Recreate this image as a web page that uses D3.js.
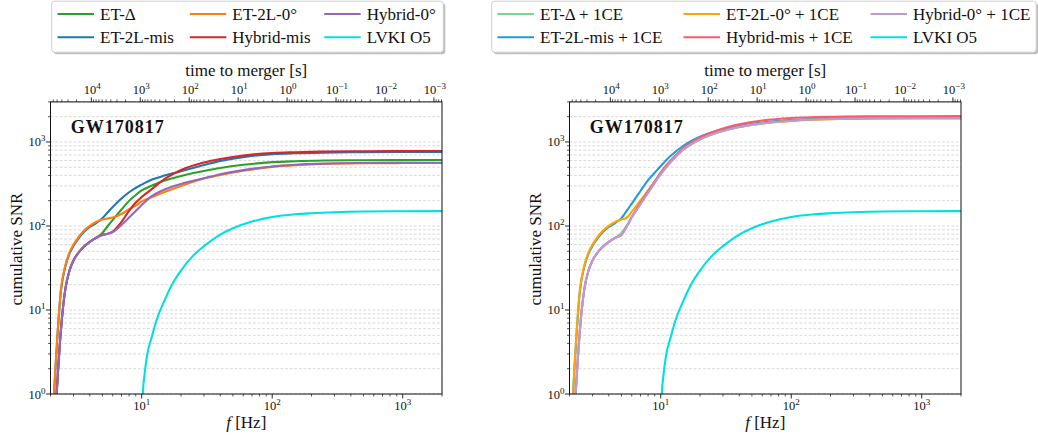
<!DOCTYPE html>
<html><head><meta charset="utf-8">
<script src="https://cdn.jsdelivr.net/npm/d3@7"></script>
<style>body{margin:0;background:#fff}</style>
</head><body>
<svg id="c" width="1038" height="436"></svg>
<script>
// ---------------- data ----------------
const freqHz = [2.1, 2.15, 2.25, 2.4, 2.6, 2.8, 3.0, 3.3, 3.6, 4.0, 4.5, 5.0, 5.5, 6.0, 7.0, 8.0, 9.0, 10, 12, 15, 20, 30, 40, 60, 100, 150, 250, 500, 1000, 2000];

// left panel (ET configurations alone)
const etDelta   = [0.1, 0.35, 1.27, 5.6, 17.8, 29.7, 38.9, 48.8, 56.5, 64.7, 72.6, 82.6, 100, 118, 157, 199, 234, 265, 303, 348, 394, 451, 490, 535, 575, 590, 601, 607, 609, 610];
const et2LMis   = [0.6, 1.3, 4.3, 16.5, 33, 47, 58, 72, 85, 97.5, 109, 124, 146, 168, 212, 252, 285, 311, 357, 398, 448, 531, 596, 661, 716, 734, 747, 756, 760, 762];
const et2L0     = [0.6, 1.35, 4.5, 17, 34, 48.5, 60, 74.5, 88, 100.5, 112.5, 119.5, 123, 126.5, 139, 159, 175, 196, 221, 254, 299, 367, 405, 455, 505, 530, 548, 558, 561, 562];
const hybridMis = [0.1, 0.35, 1.27, 5.6, 17.8, 29.7, 38.9, 48.8, 56.5, 64.7, 72.6, 78.2, 80.7, 86, 112, 151, 190, 221, 276, 363, 464, 570, 628, 691, 740, 756, 769, 777, 779, 780];
const hybrid0   = [0.1, 0.35, 1.27, 5.6, 17.8, 29.7, 38.9, 48.8, 56.5, 64.7, 72.6, 78.2, 80.7, 84.8, 103, 126, 151, 178, 228, 272, 316, 371, 414, 462, 511, 535, 553, 562, 565, 566];

// right panel (ET configurations + 1 CE)
const etDeltaCE   = [0.1, 0.35, 1.27, 5.6, 17.8, 29.7, 38.9, 48.8, 56.5, 64.7, 72.6, 82.6, 101, 127, 182, 248, 326, 414, 582, 815, 1072, 1350, 1505, 1670, 1800, 1860, 1900, 1922, 1932, 1935];
const et2LMisCE   = [0.6, 1.3, 4.3, 16.5, 33, 47, 58, 72, 85, 97.5, 109, 124, 152, 185, 261, 352, 431, 518, 689, 908, 1156, 1416, 1563, 1707, 1820, 1875, 1915, 1938, 1947, 1950];
const et2L0CE     = [0.6, 1.35, 4.5, 17, 34, 48.5, 60, 74.5, 88, 100.5, 112.5, 119.5, 126, 148, 202, 266, 339, 416, 590, 822, 1078, 1352, 1504, 1665, 1785, 1843, 1880, 1900, 1907, 1910];
const hybridMisCE = [0.1, 0.35, 1.27, 5.6, 17.8, 29.7, 38.9, 48.8, 56.5, 64.7, 72.6, 78.2, 99, 128, 188, 258, 340, 435, 610, 850, 1130, 1450, 1620, 1800, 1930, 1975, 2005, 2022, 2028, 2030];
const hybrid0CE   = [0.1, 0.35, 1.27, 5.6, 17.8, 29.7, 38.9, 48.8, 56.5, 64.7, 72.6, 78.2, 98.4, 126, 182, 248, 326, 416, 586, 819, 1077, 1352, 1504, 1665, 1790, 1850, 1890, 1910, 1918, 1920];

// LVK-India O5 network
const lvkFreqHz = [10.1, 10.2, 10.5, 11, 12, 13, 15, 17, 20, 25, 30, 40, 50, 70, 100, 150, 200, 300, 500, 1000, 2000];
const lvkSNR    = [0.4, 1.0, 1.68, 2.9, 4.9, 7.6, 13.1, 19.8, 29.5, 45, 57.5, 79, 94, 113, 128, 138, 142, 146, 149, 150, 150.4];

const leftLabels  = ["ET-Δ", "ET-2L-mis", "ET-2L-0°", "Hybrid-mis", "Hybrid-0°", "LVKI O5"];
const rightLabels = ["ET-Δ + 1CE", "ET-2L-mis + 1CE", "ET-2L-0° + 1CE", "Hybrid-mis + 1CE", "Hybrid-0° + 1CE", "LVKI O5"];
const leftColors  = ["#2ca02c", "#1f77b4", "#ff7f0e", "#d62728", "#9467bd", "#00e0e0"];
const rightColors = ["#7ad68c", "#1a9fdc", "#ffa500", "#fb5a6e", "#bb9bd6", "#00e0e0"];

const xTicks = [10, 100, 1000];
const yTicks = [1, 10, 100, 1000];
const tauTicks = [1e4, 1e3, 1e2, 1e1, 1e0, 1e-1, 1e-2, 1e-3];
const tauTickExp = ["4", "3", "2", "1", "0", "−1", "−2", "−3"];
const xTickExp = ["1", "2", "3"];
const yTickExp = ["0", "1", "2", "3"];
const eventName = "GW170817";
const fRange = [2, 2000];
const snrRange = [1, 3000];
const fTau1s = 130; // frequency at which time to merger = 1 s
const tau = f => Math.pow(f / fTau1s, -8 / 3);

// ---------------- drawing ----------------
const FONT = "'Liberation Serif', serif";
const svg = d3.select("#c");

function txt(sel) { return sel.append("text").style("font-family", FONT).attr("fill", "#111"); }

function minorTicks(lo, hi) {
  const out = [];
  for (let e = Math.floor(Math.log10(lo)) - 1; e <= Math.ceil(Math.log10(hi)); e++) {
    for (let k = 1; k <= 9; k++) {
      const v = k * Math.pow(10, e);
      if (v >= lo * 0.9999 && v <= hi * 1.0001) out.push({ v, major: k === 1 });
    }
  }
  return out;
}

function drawPanel(idx, dx, seriesList, colors, labels, legend) {
  const x0 = 50.5 + dx, x1 = 442 + dx, yTop = 101.9, yBot = 394;
  const x = d3.scaleLog().domain(fRange).range([x0, x1]);
  const y = d3.scaleLog().domain(snrRange).range([yBot, yTop]);
  const xt = d3.scaleLog().domain([tau(fRange[0]), tau(fRange[1])]).range([x0, x1]);
  const g = svg.append("g");

  g.append("clipPath").attr("id", "clip" + idx).append("rect")
    .attr("x", x0).attr("y", yTop).attr("width", x1 - x0).attr("height", yBot - yTop);

  g.append("g").selectAll("line").data(minorTicks(snrRange[0], snrRange[1])).join("line")
    .attr("x1", x0).attr("x2", x1).attr("y1", d => y(d.v)).attr("y2", d => y(d.v))
    .attr("stroke", "#cfcfcf").attr("stroke-width", 0.8).attr("stroke-dasharray", "2.8,1.8");

  const line = d3.line().x(d => x(d.f)).y(d => y(d.v)).curve(d3.curveMonotoneX);
  const cg = g.append("g").attr("clip-path", `url(#clip${idx})`);
  seriesList.forEach((s, i) => {
    const pts = s.f.map((f, j) => ({ f, v: s.v[j] }));
    cg.append("path").attr("d", line(pts)).attr("fill", "none")
      .attr("stroke", colors[i]).attr("stroke-width", 2.1).attr("stroke-linejoin", "round");
  });

  g.append("rect").attr("x", x0).attr("y", yTop).attr("width", x1 - x0).attr("height", yBot - yTop)
    .attr("fill", "none").attr("stroke", "#111").attr("stroke-width", 1);

  g.append("g").selectAll("line").data(minorTicks(fRange[0], fRange[1])).join("line")
    .attr("x1", d => x(d.v)).attr("x2", d => x(d.v)).attr("y1", yBot).attr("y2", d => yBot + (d.major ? 4.5 : 2.5))
    .attr("stroke", "#111").attr("stroke-width", d => d.major ? 0.9 : 0.7);
  xTicks.forEach((t, i) => {
    const tx = txt(g).attr("x", x(t)).attr("y", 410).attr("text-anchor", "middle").attr("font-size", 12.5);
    tx.append("tspan").text("10");
    tx.append("tspan").attr("dy", -5).attr("font-size", 9).text(xTickExp[i]);
  });

  g.append("g").selectAll("line").data(minorTicks(snrRange[0], snrRange[1])).join("line")
    .attr("y1", d => y(d.v)).attr("y2", d => y(d.v)).attr("x1", x0).attr("x2", d => x0 - (d.major ? 4.5 : 2.5))
    .attr("stroke", "#111").attr("stroke-width", d => d.major ? 0.9 : 0.7);
  yTicks.forEach((t, i) => {
    const tx = txt(g).attr("x", x0 - 5).attr("y", y(t) + 4.5).attr("text-anchor", "end").attr("font-size", 12.5);
    tx.append("tspan").text("10");
    tx.append("tspan").attr("dy", -5).attr("font-size", 9).text(yTickExp[i]);
  });

  const tLo = tau(fRange[1]), tHi = tau(fRange[0]);
  g.append("g").selectAll("line").data(minorTicks(tLo, tHi)).join("line")
    .attr("x1", d => xt(d.v)).attr("x2", d => xt(d.v)).attr("y1", yTop).attr("y2", d => yTop - (d.major ? 4.5 : 2.5))
    .attr("stroke", "#111").attr("stroke-width", d => d.major ? 0.9 : 0.7);
  tauTicks.forEach((t, i) => {
    const tx = txt(g).attr("x", xt(t) + 1).attr("y", 94).attr("text-anchor", "middle").attr("font-size", 12.5);
    tx.append("tspan").text("10");
    tx.append("tspan").attr("dy", -5).attr("font-size", 9).text(tauTickExp[i]);
  });

  const cx = (x0 + x1) / 2;
  txt(g).attr("x", cx).attr("y", 76).attr("text-anchor", "middle").attr("font-size", 17).text("time to merger [s]");
  const fl = txt(g).attr("x", cx).attr("y", 428).attr("text-anchor", "middle").attr("font-size", 17);
  fl.append("tspan").attr("font-style", "italic").text("f");
  fl.append("tspan").text(" [Hz]");
  txt(g).attr("transform", `translate(${22 + dx},249) rotate(-90)`).attr("text-anchor", "middle")
    .attr("font-size", 17).text("cumulative SNR");

  txt(g).attr("x", 70.7 + dx).attr("y", 132.7).attr("font-size", 18).attr("font-weight", "bold")
    .attr("letter-spacing", 1).text(eventName);

  const lg = svg.append("g");
  lg.append("rect").attr("x", legend.x + 2).attr("y", legend.y + 2).attr("width", legend.w).attr("height", legend.h)
    .attr("rx", 3).attr("fill", "#888").attr("opacity", 0.55);
  lg.append("rect").attr("x", legend.x).attr("y", legend.y).attr("width", legend.w).attr("height", legend.h)
    .attr("rx", 3).attr("fill", "#fff").attr("stroke", "#d0d0d0").attr("stroke-width", 1);
  labels.forEach((lab, i) => {
    const col = Math.floor(i / 2), row = i % 2;
    const tx = legend.cols[col], cy = legend.rows[row];
    lg.append("line").attr("x1", tx - 42.5).attr("x2", tx - 6).attr("y1", cy).attr("y2", cy)
      .attr("stroke", colors[i]).attr("stroke-width", 2.1);
    txt(lg).attr("x", tx).attr("y", cy + 5.6).attr("font-size", 17).text(lab);
  });
}

const mk = arr => ({ f: freqHz, v: arr });
const lvk = { f: lvkFreqHz, v: lvkSNR };

drawPanel(0, 0, [mk(etDelta), mk(et2LMis), mk(et2L0), mk(hybridMis), mk(hybrid0), lvk], leftColors, leftLabels,
  { x: 51.7, y: 1.2, w: 391.6, h: 51, cols: [100, 232.3, 366.7], rows: [14, 37.3] });
drawPanel(1, 519, [mk(etDeltaCE), mk(et2LMisCE), mk(et2L0CE), mk(hybridMisCE), mk(hybrid0CE), lvk], rightColors, rightLabels,
  { x: 491.7, y: 1.2, w: 544.5, h: 51, cols: [540, 726, 913], rows: [14, 37.3] });
</script>
</body></html>
